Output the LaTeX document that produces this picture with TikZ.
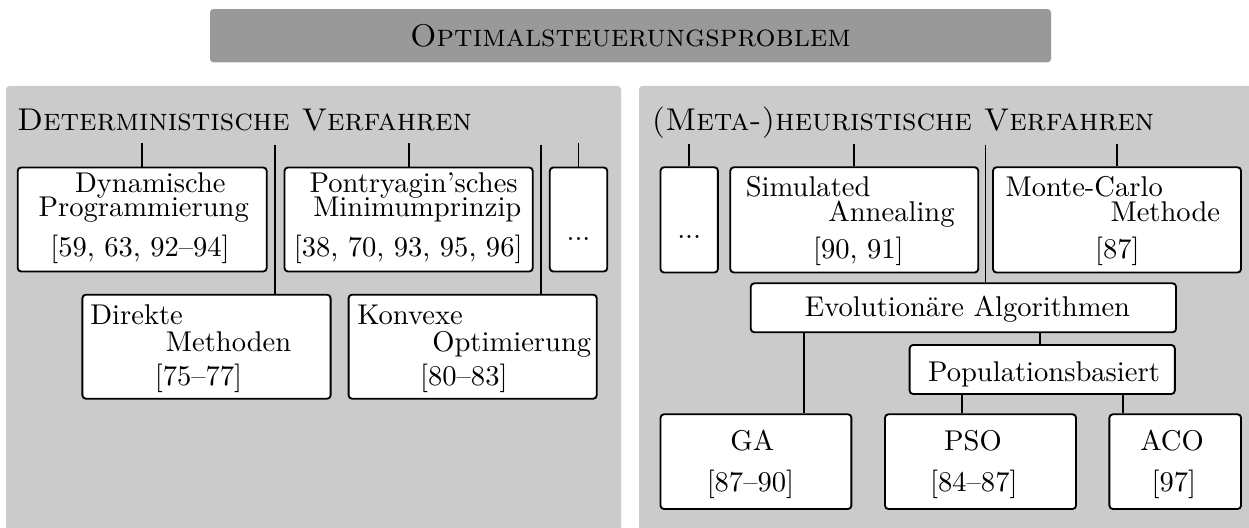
\documentclass[tikz,border=0pt]{standalone}
\definecolor{barfill}{HTML}{999999}
\definecolor{panelfill}{HTML}{CBCBCB}
\newcommand\mybox[6][]{\node[box,#1,minimum width={(#5-#3)*0.35pt},minimum height={(#6-#4)*0.35pt}] (#2) at ({(#3+#5)/2},{(#4+#6)/2}) {};}
\tikzset{
  box/.style={draw,line width=0.65pt,rounded corners=1.2pt,fill=white,inner sep=0pt},
  panel/.style={fill=panelfill,rounded corners=1.2pt},
  conn/.style={line width=0.65pt},
  tl/.style={anchor=base west,inner sep=0pt,font=\fontsize{10}{12}\selectfont},
  tc/.style={anchor=base,inner sep=0pt,font=\fontsize{10}{12}\selectfont},
  ttl/.style={anchor=base west,inner sep=0pt,font=\fontsize{11}{13}\selectfont\scshape},
}
\begin{document}
\begin{tikzpicture}[x=0.35pt,y=-0.35pt]
\useasboundingbox (0,0) rectangle (1249,528);
% top bar
\node[fill=barfill,rounded corners=1.2pt,inner sep=0pt,minimum width={841*0.35pt},minimum height={53.3*0.35pt},font=\fontsize{11}{13}\selectfont\scshape] (top) at (630.5,35.7) {Optimalsteuerungsproblem};
% panels
\fill[panel] (6,86) rectangle (621,545);
\fill[panel] (639,86) rectangle (1265,545);
\node[ttl] (dtitle) at (16.5,131) {Deterministische Verfahren};
\node[ttl] (htitle) at (651,131) {(Meta-)heuristische Verfahren};
% left boxes
\mybox{dp}{17.7}{167.5}{266.7}{271.5}
\mybox{pm}{284.5}{167.5}{532.7}{271.5}
\mybox{dl}{549.8}{167.5}{607.3}{271.5}
\mybox{dm}{82.4}{294.7}{330.6}{398.7}
\mybox{ko}{348.6}{294.7}{596.7}{398.7}
% right boxes
\mybox{rd}{660.5}{167.3}{717.9}{272.5}
\mybox{sa}{730.3}{167.3}{978.2}{272.5}
\mybox{mc}{993}{167.3}{1241}{272.5}
\mybox{ea}{750.8}{283.3}{1176}{332.3}
\mybox{pb}{909.6}{345}{1174.8}{394}
\mybox{ga}{660.5}{414.3}{851.4}{509}
\mybox{pso}{885}{414.3}{1076}{509}
\mybox{aco}{1109.4}{414.3}{1241}{509}
% texts left
\node[tc] (dp1) at (150.3,192.7) {Dynamische};
\node[tc] (dp2) at (143.8,217) {Programmierung};
\node[tc] (dp3) at (140,257) {[59, 63, 92--94]};
\node[tc] (pm1) at (413.7,192.7) {Pontryagin'sches};
\node[tc] (pm2) at (417.3,217) {Minimumprinzip};
\node[tc] (pm3) at (408.2,257) {[38, 70, 93, 95, 96]};
\node[tc] (dl1) at (578.5,241) {...};
\node[tl] (dm1) at (89.8,325) {Direkte};
\node[tl] (dm2) at (165.3,351) {Methoden};
\node[tl] (dm3) at (154.3,385) {[75--77]};
\node[tl] (ko1) at (356.7,325) {Konvexe};
\node[tl] (ko2) at (431.8,351) {Optimierung};
\node[tl] (ko3) at (419.6,385) {[80--83]};
% texts right
\node[tc] (rd1) at (689.2,239) {...};
\node[tl] (sa1) at (745.2,196.5) {Simulated};
\node[tl] (sa2) at (827.8,222) {Annealing};
\node[tl] (sa3) at (812.5,258.5) {[90, 91]};
\node[tl] (mc1) at (1005,196.5) {Monte-Carlo};
\node[tl] (mc2) at (1110,222) {Methode};
\node[tl] (mc3) at (1094.5,258.5) {[87]};
\node[tc] (ea1) at (967.5,316.7) {Evolutionäre Algorithmen};
\node[tc] (pb1) at (1044,381.7) {Populationsbasiert};
\node[tc] (ga1) at (752.4,450) {GA};
\node[tc] (ga2) at (750.4,491.5) {[87--90]};
\node[tc] (pso1) at (973,450) {PSO};
\node[tc] (pso2) at (973.8,491.5) {[84--87]};
\node[tc] (aco1) at (1172,450) {ACO};
\node[tc] (aco2) at (1173.8,491.5) {[97]};
% connector helper coordinates
\coordinate (ltop) at (0,143);
\coordinate (rtop) at (0,144);
\coordinate (dmx) at (275,145);
\coordinate (kox) at (541,145);
\coordinate (eax) at (985.5,145);
\coordinate (gax) at (803.7,0);
\coordinate (pbx) at (1040,0);
\coordinate (psox) at (962.2,0);
\coordinate (acox) at (1122.7,0);
% connectors left
\draw[conn] (dp.north) -- (dp.north |- ltop);
\draw[conn] (pm.north) -- (pm.north |- ltop);
\draw[conn] (dl.north) -- (dl.north |- ltop);
\draw[conn] (dmx) -- (dm.north -| dmx);
\draw[conn] (kox) -- (ko.north -| kox);
% connectors right
\draw[conn] (rd.north) -- (rd.north |- rtop);
\draw[conn] (sa.north) -- (sa.north |- rtop);
\draw[conn] (mc.north) -- (mc.north |- rtop);
\draw[conn] (eax) -- (ea.north -| eax);
\draw[conn] (ea.south -| gax) -- (ga.north -| gax);
\draw[conn] (ea.south -| pbx) -- (pb.north -| pbx);
\draw[conn] (pb.south -| psox) -- (pso.north -| psox);
\draw[conn] (pb.south -| acox) -- (aco.north -| acox);
\end{tikzpicture}
\end{document}
